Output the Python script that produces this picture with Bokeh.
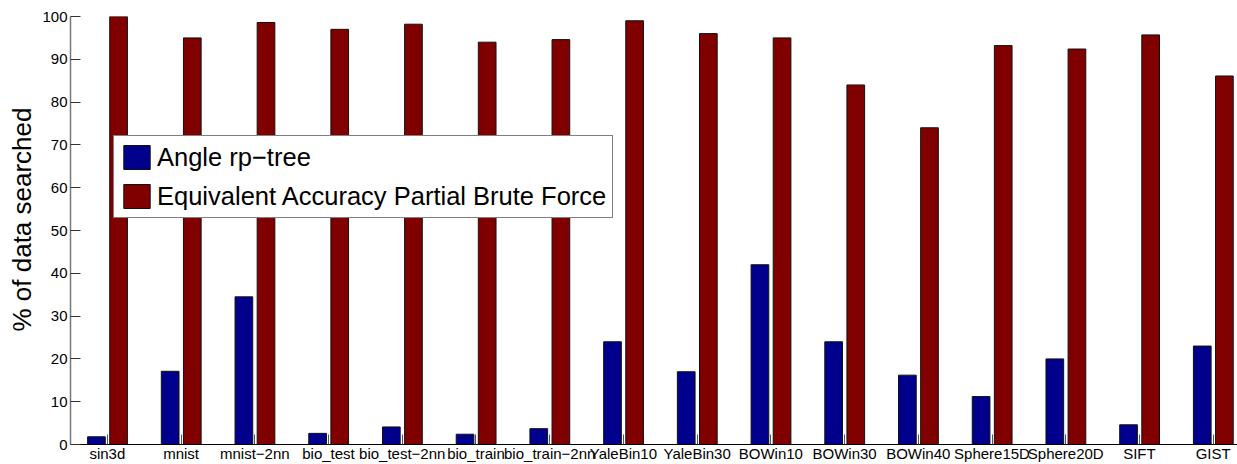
from bokeh.plotting import figure
from bokeh.models import Legend, LegendItem, FixedTicker, Range1d, ColumnDataSource, Title
from bokeh.transform import dodge
from bokeh.embed import file_html
from bokeh.resources import INLINE

categories = ["sin3d", "mnist", "mnist\u22122nn", "bio_test", "bio_test\u22122nn",
              "bio_train", "bio_train\u22122nn", "YaleBin10", "YaleBin30", "BOWin10",
              "BOWin30", "BOWin40", "Sphere15D", "Sphere20D", "SIFT", "GIST"]
angle_rp_tree = [1.8, 17.1, 34.5, 2.6, 4.1, 2.4, 3.7, 24.0, 17.0, 42.0,
                 24.0, 16.2, 11.2, 20.0, 4.6, 23.0]
partial_brute_force = [100.0, 95.0, 98.6, 97.0, 98.2, 94.0, 94.6, 99.0, 96.0, 95.0,
                       84.0, 74.0, 93.2, 92.4, 95.7, 86.1]
y_ticks = [0, 10, 20, 30, 40, 50, 60, 70, 80, 90, 100]
series_labels = ["Angle rp\u2212tree", "Equivalent Accuracy Partial Brute Force"]
y_title = "% of data searched"

positions = list(range(1, len(categories) + 1))
src = ColumnDataSource(dict(x=positions, a=angle_rp_tree, b=partial_brute_force))

p = figure(width=1237, height=464, output_backend="svg", toolbar_location=None,
           x_range=Range1d(0.5, 16.33), y_range=Range1d(0, 100),
           min_border_left=70, min_border_right=0, min_border_top=16, min_border_bottom=20)

r1 = p.vbar(x=dodge("x", -0.148), top="a", width=0.24, source=src,
            fill_color="#00008C", line_color="#111111", line_width=1)
r2 = p.vbar(x=dodge("x", 0.152), top="b", width=0.24, source=src,
            fill_color="#800000", line_color="#111111", line_width=1)

p.xgrid.visible = False
p.ygrid.visible = False
p.outline_line_color = None
p.background_fill_color = "white"

xa = p.xaxis[0]
xa.ticker = FixedTicker(ticks=positions)
xa.major_label_overrides = {pos: lab for pos, lab in zip(positions, categories)}
xa.major_tick_in = 10
xa.major_tick_out = 0
xa.minor_tick_line_color = None
xa.axis_line_color = "black"
xa.major_tick_line_color = "#555555"
xa.major_label_text_font = "Liberation Sans"
xa.major_label_text_font_size = "15px"
xa.major_label_text_color = "black"
xa.major_label_standoff = 0

ya = p.yaxis[0]
ya.ticker = FixedTicker(ticks=y_ticks)
ya.major_tick_in = 10
ya.major_tick_out = 0
ya.minor_tick_line_color = None
ya.axis_line_color = "#777777"
ya.axis_line_width = 1.5
ya.major_tick_line_color = "#333333"
ya.major_label_text_font = "Liberation Sans"
ya.major_label_text_font_size = "15px"
ya.major_label_text_color = "black"
ya.major_label_standoff = 3

ttl = Title(text=y_title, align="right", offset=91, standoff=6,
            text_font="Liberation Sans", text_font_size="26px",
            text_font_style="normal", text_color="black")
p.add_layout(ttl, "left")

legend = Legend(items=[LegendItem(label=series_labels[0], renderers=[r1]),
                       LegendItem(label=series_labels[1], renderers=[r2])],
                location=(43, 226))
legend.label_text_font = "Liberation Sans"
legend.label_text_font_size = "25.5px"
legend.label_text_color = "black"
legend.glyph_width = 33
legend.glyph_height = 30
legend.label_height = 30
legend.label_standoff = 4
legend.spacing = 9
legend.padding = 6
legend.margin = 0
legend.border_line_color = "black"
legend.border_line_width = 1
legend.background_fill_alpha = 1.0
p.add_layout(legend)

open("out.html", "w").write(file_html(p, INLINE))
